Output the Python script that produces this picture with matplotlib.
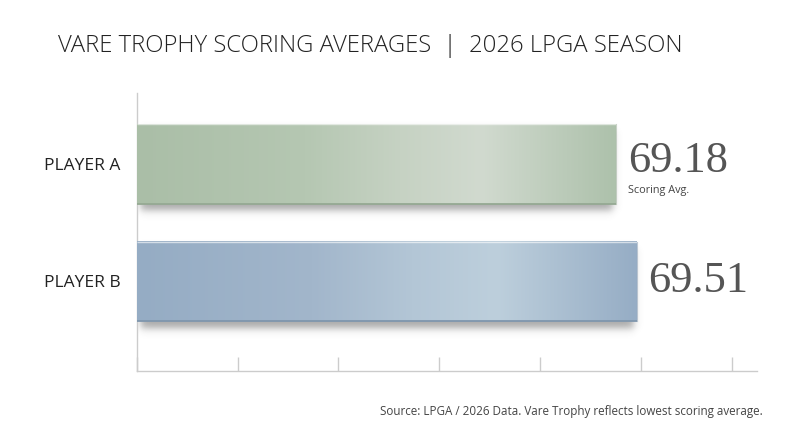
import numpy as np
import matplotlib.pyplot as plt
from matplotlib.colors import LinearSegmentedColormap, to_rgba

players = ["PLAYER A", "PLAYER B"]
scores = [69.18, 69.51]
sub_labels = ["Scoring Avg.", ""]
gradients = [
    ["#aabea7", "#b5c7b2", "#c6d2c3", "#d1dacf", "#adc1ab"],
    ["#95acc4", "#a2b6cb", "#b3c6d6", "#bdcfdc", "#96adc5"],
]
edge_colors = ["#95a993", "#7f96ad"]

x_min, x_max = 61.65, 71.4
tick_vals = list(np.linspace(61.65, 69.57, 6)) + [71.0]

plt.rcParams["font.family"] = ["Open Sans", "DejaVu Sans"]

fig = plt.figure(figsize=(8, 4.47), dpi=100)
ax = fig.add_axes([137 / 800, 76 / 447, 620 / 800, 278 / 447])

ypos = np.arange(len(players))
bar_h = 0.68
ax.set_xlim(x_min, x_max)
ax.set_ylim(1.762, -0.604)

bars = ax.barh(ypos, [s - x_min for s in scores], left=x_min, height=bar_h,
               color="none", edgecolor="none", zorder=3)


def soft(t, w):
    return 0.5 * (1 + np.tanh(t / w))


for bar, grad, ec in zip(bars, gradients, edge_colors):
    x0, y0 = bar.get_x(), bar.get_y()
    w, h = bar.get_width(), bar.get_height()
    x1, y1 = x0 + w, y0 + h

    # soft drop shadow
    sx0, sx1 = x0 - 0.4, x1 + 0.4
    sy0, sy1 = y0 - 0.1, y1 + 0.25
    xs = np.linspace(sx0, sx1, 400)
    ys = np.linspace(sy0, sy1, 120)
    X, Y = np.meshgrid(xs, ys)
    off = 0.06
    a = (soft(X - (x0 + 0.05), 0.07) * soft((x1 - 0.05) - X, 0.07)
         * soft(Y - (y0 + off), 0.035) * soft((y1 + off) - Y, 0.04))
    shadow = np.zeros((len(ys), len(xs), 4))
    shadow[..., :3] = 0.25
    shadow[..., 3] = a * 0.45
    ax.imshow(shadow, extent=(sx0, sx1, sy1, sy0), aspect="auto",
              zorder=2, interpolation="bilinear")

    cmap = LinearSegmentedColormap.from_list("g", list(zip([0, 0.35, 0.55, 0.72, 1.0], grad)))
    img = cmap(np.linspace(0, 1, 256))[None, :, :]
    ax.imshow(img, extent=(x0, x1, y1, y0), aspect="auto", zorder=3,
              interpolation="bilinear")
    ax.plot([x0, x1], [y1, y1], color=ec, lw=1.3, zorder=4, solid_capstyle="butt")
    ax.plot([x0, x1], [y0, y0], color=to_rgba("white", 0.6), lw=1, zorder=4,
            solid_capstyle="butt")
    ax.plot([x1, x1], [y0, y1], color=ec, lw=0.8, alpha=0.5, zorder=4)

ax.set_xlim(x_min, x_max)
ax.set_ylim(1.762, -0.604)

for y, s, sub in zip(ypos, scores, sub_labels):
    dy = 2 if sub else 0
    ax.annotate(f"{s:.2f}", (s, y), xytext=(8.5, dy), textcoords="offset points",
                ha="left", va="center", fontsize=32, color="#555555",
                family=["Liberation Serif", "DejaVu Serif"])
    if sub:
        ax.annotate(sub, (s, y), xytext=(9, -19), textcoords="offset points",
                    ha="left", va="center", fontsize=7.8, color="#444444")

ax.set_yticks(ypos)
ax.set_yticklabels(players, fontsize=12.5, color="#222222")
ax.tick_params(axis="y", length=0, pad=12)
ax.set_xticks(tick_vals)
ax.set_xticklabels([])
ax.tick_params(axis="x", direction="in", length=10, color="#cccccc", width=1)

for side in ["top", "right"]:
    ax.spines[side].set_visible(False)
for side in ["left", "bottom"]:
    ax.spines[side].set_color("#cccccc")
    ax.spines[side].set_linewidth(1)

fig.text(58 / 800, 1 - 46 / 447, "VARE TROPHY SCORING AVERAGES  |  2026 LPGA SEASON",
         ha="left", va="center", fontsize=17.2, color="#222222", fontweight="light")
fig.text(763 / 800, 1 - 412 / 447,
         "Source: LPGA / 2026 Data. Vare Trophy reflects lowest scoring average.",
         ha="right", va="center", fontsize=8.4, color="#444444")

fig.savefig("out.png", dpi=100, facecolor="white")
